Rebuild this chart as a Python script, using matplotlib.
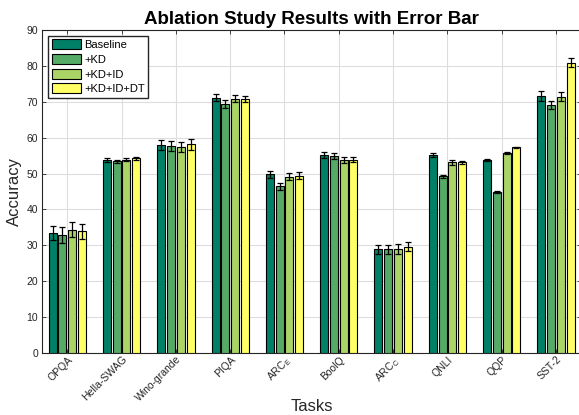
"""
Ablation study grouped bar chart with error bars
"""

import numpy as np
import matplotlib.pyplot as plt

# ---------------------------------------------------------------------------- #
# Data
# ---------------------------------------------------------------------------- #
tasks = ['OPQA', 'Hella-SWAG', 'Wino-grande', 'PIQA', r'ARC$_\mathregular{E}$',
         'BoolQ', r'ARC$_\mathregular{C}$', 'QNLI', 'QQP', 'SST-2']
series = ['Baseline', '+KD', '+KD+ID', '+KD+ID+DT']

baseline = [33.5, 53.8, 58.0, 71.1, 49.8, 55.2, 28.9, 55.2, 53.8, 71.7]
kd = [32.9, 53.4, 57.8, 69.4, 46.4, 54.8, 28.9, 49.2, 44.9, 69.1]
kd_id = [34.4, 53.9, 57.3, 70.9, 49.1, 53.7, 29.0, 53.1, 55.7, 71.4]
kd_id_dt = [33.9, 54.2, 58.1, 70.7, 49.4, 53.9, 29.6, 53.1, 57.3, 80.9]

err_baseline = [2.0, 0.5, 1.4, 1.0, 1.0, 0.8, 1.3, 0.6, 0.2, 1.4]
err_kd = [2.2, 0.4, 1.4, 1.0, 1.0, 0.8, 1.3, 0.5, 0.2, 1.2]
err_kd_id = [2.2, 0.5, 1.4, 0.9, 1.0, 0.8, 1.3, 0.6, 0.2, 1.2]
err_kd_id_dt = [2.0, 0.5, 1.4, 0.9, 1.0, 0.8, 1.3, 0.5, 0.2, 1.2]

values = [baseline, kd, kd_id, kd_id_dt]
errors = [err_baseline, err_kd, err_kd_id, err_kd_id_dt]

# MATLAB 'summer' colormap, 4 levels
colours = ['#008066', '#55AA66', '#AAD466', '#FFFF66']

# ---------------------------------------------------------------------------- #
# Plot
# ---------------------------------------------------------------------------- #
plt.rcParams['font.family'] = ['Liberation Sans', 'DejaVu Sans']
text_col = '#262626'

fig = plt.figure(figsize=(5.79, 4.15), dpi=100)
# axes run slightly past the right edge of the image, as in the original
ax = fig.add_axes([42.3 / 579, 1 - 353 / 415, 538.7 / 579, 323 / 415])

x = np.arange(1, len(tasks) + 1)
width = 0.147
offsets = [-0.27, -0.09, 0.09, 0.27]

for j, name in enumerate(series):
    ax.bar(x + offsets[j], values[j], width, color=colours[j], edgecolor='black',
           linewidth=0.8, label=name, zorder=3)
    ax.errorbar(x + offsets[j], values[j], yerr=errors[j], fmt='none',
                ecolor='black', elinewidth=0.9, capsize=2.5, capthick=0.9, zorder=4)

ax.set_xlim(0.54, 10.46)
ax.set_ylim(0, 90)
ax.set_yticks(np.arange(0, 91, 10))
ax.set_xticks(x)
ax.set_xticklabels(tasks, rotation=45, ha='right', rotation_mode='anchor', fontsize=7.5)
ax.tick_params(axis='y', labelsize=7.5, pad=3)
ax.tick_params(axis='x', pad=1)
ax.tick_params(direction='in', top=True, right=True, length=3, width=0.6,
               colors=text_col)
ax.grid(color='#dddddd', linewidth=0.8, zorder=0)
for spine in ax.spines.values():
    spine.set_linewidth(0.8)
    spine.set_color(text_col)

ax.set_title('Ablation Study Results with Error Bar', fontsize=13.5, fontweight='bold',
             pad=4, color='black')
ax.set_xlabel('Tasks', fontsize=12, labelpad=-3, color=text_col)
ax.set_ylabel('Accuracy', fontsize=12, labelpad=3, color=text_col)

ax.legend(loc='upper left', fontsize=8, fancybox=False, edgecolor=text_col,
          framealpha=1, handlelength=2.6, handleheight=1.0, handletextpad=0.3,
          borderpad=0.35, labelspacing=0.35, borderaxespad=0.5)

fig.savefig('out.png', dpi=100)
plt.close()
